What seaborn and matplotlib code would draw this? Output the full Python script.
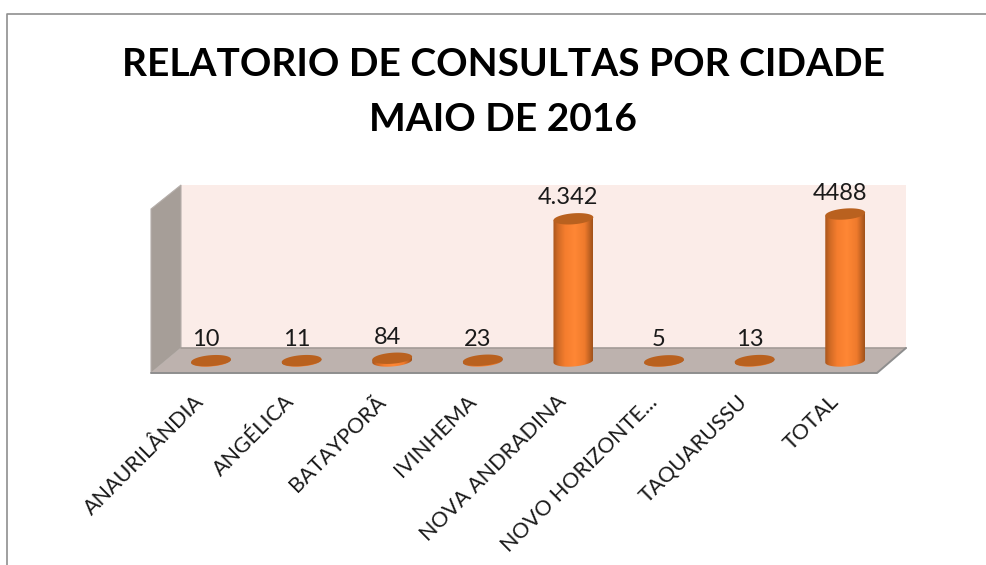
#!/usr/bin/env python3
"""Relatorio de consultas por cidade - pseudo 3D cylinder chart."""

import numpy as np
import pandas as pd
import matplotlib
matplotlib.use('Agg')
import matplotlib.pyplot as plt
from matplotlib.colors import LinearSegmentedColormap
from matplotlib.patches import Polygon
from matplotlib.transforms import ScaledTranslation
import seaborn as sns

cities = ['ANAURILÂNDIA', 'ANGÉLICA', 'BATAYPORÃ', 'IVINHEMA', 'NOVA ANDRADINA',
          'NOVO HORIZONTE...', 'TAQUARUSSU', 'TOTAL']
consultas = [10, 11, 84, 23, 4342, 5, 13, 4488]
value_labels = ['10', '11', '84', '23', '4.342', '5', '13', '4488']
title = 'RELATORIO DE CONSULTAS POR CIDADE\nMAIO DE 2016'

W, H = 986, 565
PX_PER_UNIT = 0.03275

sns.set_theme(style='white')
plt.rcParams['font.family'] = ['Lato', 'DejaVu Sans']

fig = plt.figure(figsize=(W / 100, H / 100), dpi=100, facecolor='white')

# frame, walls and floor live in a pixel-sized background axes
bg = fig.add_axes([0, 0, 1, 1], zorder=0)
bg.set_xlim(0, W)
bg.set_ylim(H, 0)
bg.axis('off')
bg.plot([7, 7, W], [H, 14, 14], color='#8f8f8f', lw=1.2)
bg.add_patch(Polygon([(181, 185), (906, 185), (906, 348), (181, 348)], fc='#fbece8', ec='none'))
bg.add_patch(Polygon([(151, 209), (181, 185), (181, 348), (151, 373)], fc='#a69e98', ec='#b5aeaa', lw=0.8))
bg.add_patch(Polygon([(151, 373), (181, 348), (906, 348), (877, 373)], fc='#bdb2ae', ec='none'))
bg.plot([181, 906], [348, 348], color='#a39b97', lw=1.2)
bg.plot([151, 877, 906], [373, 373, 348], color='#8e8e8e', lw=1.4)

# bars axes: x band is 90.6 px per city, y baseline at pixel 361
left, band = 165.7, 90.6
height = 5000 * PX_PER_UNIT
ax = fig.add_axes([left / W, (H - 361) / H, band * 8 / W, height / H], zorder=1)
ax.patch.set_visible(False)

df = pd.DataFrame({'cidade': cities, 'consultas': consultas})
sns.barplot(data=df, x='cidade', y='consultas', color='#f47c2c', width=0.44, ax=ax,
            saturation=1)
ax.set_xlim(-0.5, 7.5)
ax.set_ylim(0, 5000)
ax.set_xlabel('')
ax.set_ylabel('')
ax.set_yticks([])
sns.despine(ax=ax, left=True, bottom=True)
ax.tick_params(axis='x', length=0, pad=22)
shift = ScaledTranslation(-17 / 100, 0, fig.dpi_scale_trans)
for tick_label in ax.get_xticklabels():
    tick_label.set(rotation=45, ha='right', va='top', rotation_mode='anchor',
                   fontsize=15.5, color='#1a1a1a')
    tick_label.set_transform(tick_label.get_transform() + shift)

cylinder = LinearSegmentedColormap.from_list(
    'cylinder', [(0, '#a9561d'), (0.12, '#d06a25'), (0.3, '#f57d2e'), (0.55, '#ff8735'),
                 (0.8, '#ee7a2c'), (1, '#a0521b')])
grad = np.linspace(0, 1, 128).reshape(1, -1)

half_h = 5.5 / PX_PER_UNIT  # ellipse half height, in data units
slope = (3.0 / 40) * band / PX_PER_UNIT  # the ellipses lean up to the right


def ellipse(cx, cy, half_w, start=0.0, stop=2 * np.pi):
    t = np.linspace(start, stop, 60)
    dx = half_w * np.cos(t)
    return np.column_stack([cx + dx, cy + half_h * np.sin(t) + slope * dx])


for rect, label in zip(ax.patches, value_labels):
    x0, bw, top = rect.get_x(), rect.get_width(), rect.get_height()
    cx, hw = x0 + bw / 2, bw / 2
    rect.set_visible(False)

    # body: top edge, then the front half of the bottom ellipse
    body = np.vstack([[(cx - hw, top - slope * hw), (cx + hw, top + slope * hw)],
                      ellipse(cx, 0, hw, 0, -np.pi)])
    clip = Polygon(body, transform=ax.transData, fc='none', ec='none', clip_on=False)
    ax.add_patch(clip)
    im = ax.imshow(grad, cmap=cylinder, extent=(x0, x0 + bw, -half_h * 3, top + half_h * 3),
                   aspect='auto', zorder=3)
    im.set_clip_box(fig.bbox)
    im.set_clip_path(clip)

    ax.add_patch(Polygon(ellipse(cx, top, hw), fc='#b9611f', ec='none', zorder=4, clip_on=False))

    ax.annotate(label, (cx, top), xytext=(-5, 21), textcoords='offset pixels', ha='center',
                va='center', fontsize=17, color='#1a1a1a', zorder=5, annotation_clip=False)

ax.set_xlim(-0.5, 7.5)
ax.set_ylim(0, 5000)

fig.text(503 / W, 1 - 92 / H, title, ha='center', va='center', fontsize=28, fontweight='bold',
         color='black', linespacing=1.67)

fig.savefig('out.png', dpi=100)
